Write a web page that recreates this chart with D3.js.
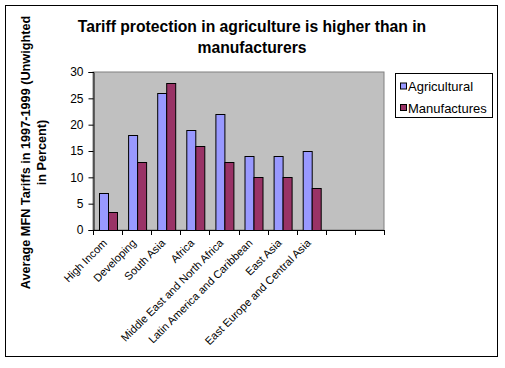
<!DOCTYPE html>
<html>
<head>
<meta charset="utf-8">
<script src="https://cdn.jsdelivr.net/npm/d3@7"></script>
<style>
  body { margin: 0; background: #fff; }
  svg { display: block; font-family: "Liberation Sans", Arial, sans-serif; }
</style>
</head>
<body>
<svg id="chart" width="505" height="368"></svg>
<script>
// values
var categories = ["High Incom", "Developing", "South Asia", "Africa",
    "Middle East and North Africa", "Latin America and Caribbean",
    "East Asia", "East Europe and Central Asia"];
var agricultural = [7, 18, 26, 19, 22, 14, 14, 15];
var manufactures = [3.5, 13, 28, 16, 13, 10, 10, 8];
var seriesNames = ["Agricultural", "Manufactures"];
var yTicks = [0, 5, 10, 15, 20, 25, 30];

var colors = { Agricultural: "#9999ff", Manufactures: "#993366" };
var slots = 10; // the axis has two empty slots after the last category

var svg = d3.select("#chart");
var plot = { left: 93, top: 72, right: 384, bottom: 230 };

svg.append("clipPath").attr("id", "frame")
    .append("rect").attr("x", 5).attr("y", 5).attr("width", 493).attr("height", 352);

var root = svg.append("g").attr("clip-path", "url(#frame)");

root.append("rect")
    .attr("x", 5.5).attr("y", 5.5).attr("width", 492).attr("height", 351)
    .attr("fill", "#fff").attr("stroke", "#000");

var x0 = d3.scaleBand().domain(d3.range(slots)).range([plot.left, plot.right]).padding(0);
var x1 = d3.scaleBand().domain(seriesNames).range([0, x0.bandwidth()])
    .paddingInner(0).paddingOuter(0.62);
var y = d3.scaleLinear().domain([0, 30]).range([plot.bottom, plot.top]);

// plot area
root.append("rect")
    .attr("x", plot.left).attr("y", plot.top)
    .attr("width", plot.right - plot.left).attr("height", plot.bottom - plot.top)
    .attr("fill", "#c0c0c0").attr("stroke", "#808080");

// bars
var rows = categories.map(function (c, i) {
    return { i: i, values: [
        { key: "Agricultural", v: agricultural[i] },
        { key: "Manufactures", v: manufactures[i] }
    ] };
});

root.selectAll("g.cat").data(rows).enter().append("g")
    .attr("class", "cat")
    .attr("transform", function (d) { return "translate(" + x0(d.i) + ",0)"; })
    .selectAll("rect").data(function (d) { return d.values; }).enter().append("rect")
    .attr("x", function (d) { return Math.round(x1(d.key)) + 0.5; })
    .attr("y", function (d) { return Math.round(y(d.v)) + 0.5; })
    .attr("width", Math.round(x1.bandwidth()))
    .attr("height", function (d) { return Math.round(y(0)) - Math.round(y(d.v)); })
    .attr("fill", function (d) { return colors[d.key]; })
    .attr("stroke", "#000");

// y axis
var yAxis = root.append("g")
    .attr("transform", "translate(" + (plot.left + 0.5) + ",0)")
    .call(d3.axisLeft(y).tickValues(yTicks).tickSize(5).tickPadding(5));
yAxis.select(".domain").attr("stroke", "#000");
yAxis.selectAll("line").attr("stroke", "#000");
yAxis.selectAll("text").attr("font-size", 12).attr("fill", "#000")
    .attr("font-family", "Liberation Sans, Arial, sans-serif");

// x axis: ticks between slots
var xEdges = d3.range(slots + 1).map(function (k) { return plot.left + k * x0.bandwidth(); });
var xAxis = root.append("g");
xAxis.append("line")
    .attr("x1", plot.left).attr("x2", plot.right)
    .attr("y1", plot.bottom + 0.5).attr("y2", plot.bottom + 0.5)
    .attr("stroke", "#000");
xAxis.selectAll("line.tick").data(xEdges).enter().append("line")
    .attr("class", "tick")
    .attr("x1", function (d) { return Math.round(d) + 0.5; })
    .attr("x2", function (d) { return Math.round(d) + 0.5; })
    .attr("y1", plot.bottom).attr("y2", plot.bottom + 5)
    .attr("stroke", "#000");

xAxis.selectAll("text.lab").data(categories).enter().append("text")
    .attr("class", "lab")
    .attr("transform", function (d, i) {
        return "translate(" + (x0(i) + x0.bandwidth() / 2 - 2.5) + "," + (plot.bottom + 11) + ") rotate(-45)";
    })
    .attr("text-anchor", "end")
    .attr("dy", "0.35em")
    .attr("font-size", 11)
    .attr("fill", "#000")
    .text(function (d) { return d; });

// title
var title = root.append("text")
    .attr("x", 252).attr("y", 32)
    .attr("text-anchor", "middle")
    .attr("font-size", 15.7).attr("font-weight", "bold").attr("fill", "#000");
title.append("tspan").attr("x", 252).text("Tariff protection in agriculture is higher than in");
title.append("tspan").attr("x", 252).attr("dy", 21).text("manufacturers");

// y axis title
var yTitle = root.append("text")
    .attr("transform", "translate(30,152.5) rotate(-90)")
    .attr("text-anchor", "middle")
    .attr("font-size", 12.7).attr("font-weight", "bold").attr("fill", "#000");
yTitle.append("tspan").attr("x", 0).text("Average MFN Tariffs in 1997-1999 (Unwighted");
yTitle.append("tspan").attr("x", 0).attr("dy", 15.5).text("in Percent)");

// legend
var legend = root.append("g");
legend.append("rect")
    .attr("x", 395.5).attr("y", 73.5).attr("width", 97).attr("height", 44)
    .attr("fill", "#fff").attr("stroke", "#000");
var items = legend.selectAll("g.item").data(seriesNames).enter().append("g")
    .attr("class", "item")
    .attr("transform", function (d, i) { return "translate(400," + (86.5 + i * 21.5) + ")"; });
items.append("rect")
    .attr("x", 0.5).attr("y", -3.5).attr("width", 6).attr("height", 6)
    .attr("fill", function (d) { return colors[d]; })
    .attr("stroke", "#000");
items.append("text")
    .attr("x", 8).attr("dy", "0.35em")
    .attr("font-size", 13).attr("fill", "#000")
    .text(function (d) { return d; });
</script>
</body>
</html>
